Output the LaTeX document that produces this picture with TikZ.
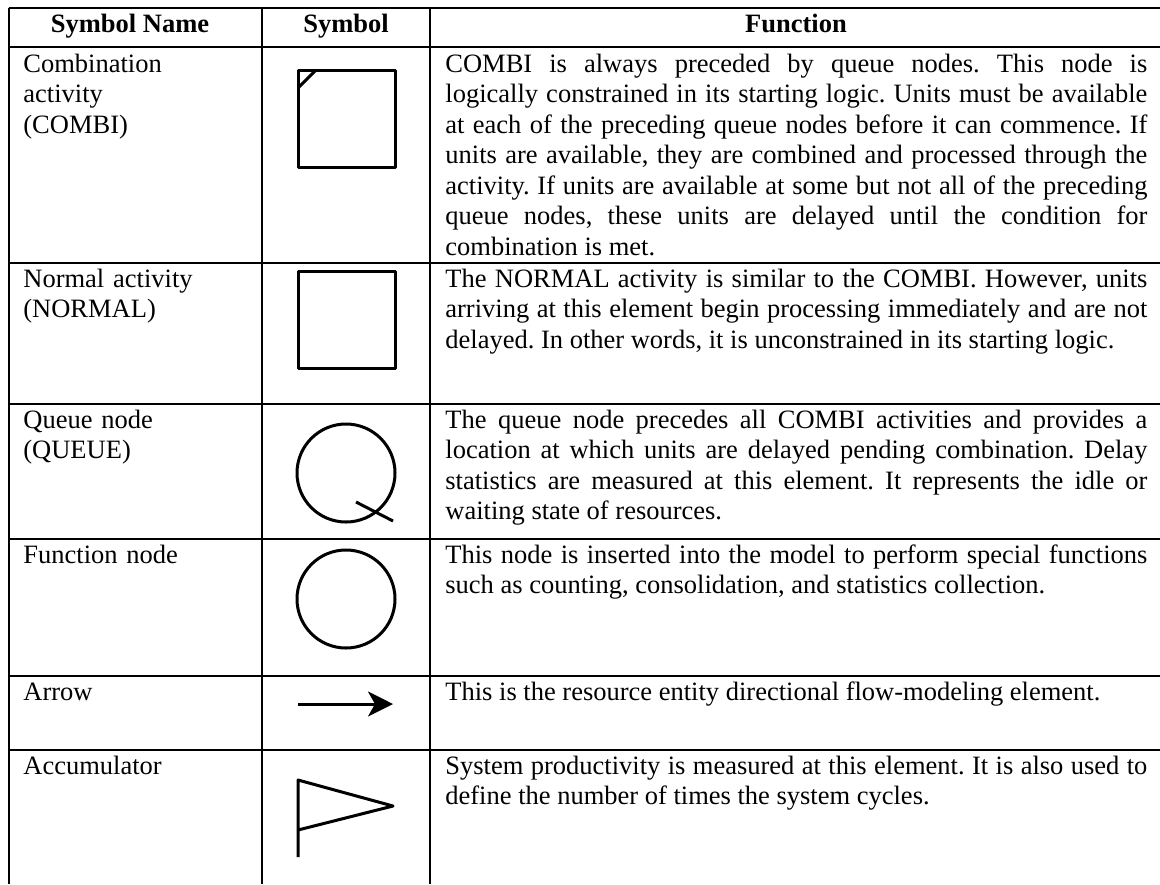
\documentclass[tikz,border=0pt]{standalone}
\usepackage{fontspec}
\setmainfont{Liberation Serif}
\usetikzlibrary{arrows.meta}
\hbadness=10000
\frenchspacing

\begin{document}
\begin{tikzpicture}[x=0.5pt,y=-0.5pt,
		font=\fontsize{13.25}{15.25}\selectfont,
		tableline/.style={line width=1pt},
		symline/.style={line width=1.5pt,line join=round},
		headcell/.style={anchor=base,inner sep=0pt,font=\fontsize{13.25}{15.25}\selectfont\bfseries},
		namecell/.style={anchor=base west,inner sep=0pt,text width=115pt,align=left},
		textcell/.style={anchor=base west,inner sep=0pt,text width=351pt,align=justify}]
			\useasboundingbox (0,0) rectangle (1160,884);
			% rows
			\foreach \y in {8,47,263,404,539,676,750}
				\draw[tableline] (8.5,\y) -- (1160,\y);
			% columns
			\foreach \x in {9,262,430}
				\draw[tableline] (\x,7.5) -- (\x,884);
			
			% header
			\node[headcell] (hname) at (130,32) {Symbol Name};
			\node[headcell] (hsymbol) at (346,32) {Symbol};
			\node[headcell] (hfunction) at (796,32) {Function};
			
			% COMBI
			\draw[symline] (298,70) rectangle (395,167);
			\draw[symline] (298,88) -- (316,70);
			% NORMAL
			\draw[symline] (298,271) rectangle (395,368);
			% QUEUE
			\draw[symline] (346,473) circle[radius=24.5pt];
			\draw[symline] (356,502) -- (393,521);
			% Function node
			\draw[symline] (346,599) circle[radius=24.5pt];
			% Arrow
			\coordinate (arrowstart) at (298,704);
			\coordinate (arrowend) at (393,704);
			\draw[symline,-{Stealth[length=12.5pt,width=12.5pt,inset=3.5pt]}] (arrowstart) -- (arrowend);
			% Accumulator
			\draw[symline] (298,857) -- (298,780) -- (393,806) -- (298,830);
			
			% names
			\node[namecell] (combiname) at (23,72) {Combination\\activity\\(COMBI)};
			\node[namecell] (normalname) at (23,287) {Normal activity\\(NORMAL)};
			\node[namecell] (queuename) at (23,428) {Queue node\\(QUEUE)};
			\node[namecell] (funcname) at (23,563) {Function node};
			\node[namecell] (arrowname) at (23,700) {Arrow};
			\node[namecell] (accname) at (23,774) {Accumulator};
			
			% functions
			\node[textcell] (combitext) at (445,72) {COMBI is always preceded by queue nodes. This node is\linebreak logically constrained in its starting logic. Units must be available\linebreak at each of the preceding queue nodes before it can commence. If\linebreak units are available, they are combined and processed through the\linebreak activity. If units are available at some but not all of the preceding\linebreak queue nodes, these units are delayed until the condition for\linebreak combination is met.};
			\node[textcell] (normaltext) at (445,287) {The NORMAL activity is similar to the COMBI. However, units\linebreak arriving at this element begin processing immediately and are not\linebreak delayed. In other words, it is unconstrained in its starting logic.};
			\node[textcell] (queuetext) at (445,428) {The queue node precedes all COMBI activities and provides a\linebreak location at which units are delayed pending combination. Delay\linebreak statistics are measured at this element. It represents the idle or\linebreak waiting state of resources.};
			\node[textcell] (functext) at (445,563) {This node is inserted into the model to perform special functions\linebreak such as counting, consolidation, and statistics collection.};
			\node[textcell] (arrowtext) at (445,700) {This is the resource entity directional flow-modeling element.};
			\node[textcell] (acctext) at (445,774) {System productivity is measured at this element. It is also used to\linebreak define the number of times the system cycles.};
			
\end{tikzpicture}
\end{document}
